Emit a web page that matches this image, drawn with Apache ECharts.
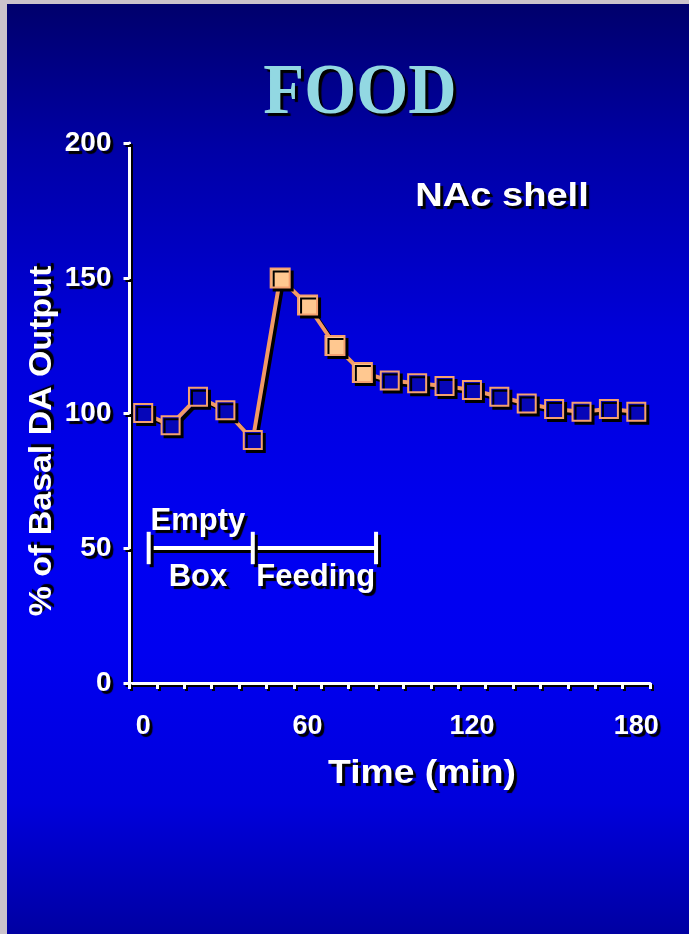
<!DOCTYPE html>
<html>
<head>
<meta charset="utf-8">
<script src="https://cdn.jsdelivr.net/npm/echarts@6/dist/echarts.min.js"></script>
<style>
  html, body { margin: 0; padding: 0; background: #CBC3CB; }
  #main {
    width: 689px; height: 934px;
    background: linear-gradient(to bottom, #00006A 0%, #0000A6 16%, #0000DA 36%, #0000F2 58%, #0000F0 70%, #0000DC 86%, #0000A2 100%);
  }
</style>
</head>
<body>
<div id="main"></div>
<script>
// ---- data ----
const categories = ['0','10','20','30','40','50','60','70','80','90','100','110','120','130','140','150','160','170','180'];
const daOutput   = [100, 95.5, 106, 101, 90, 150, 140, 125, 115, 112, 111, 110, 108.5, 106, 103.5, 101.5, 100.5, 101.5, 100.5];
const filledPoints = [5, 6, 7, 8];            // indices drawn with solid markers
const xLabelTimes  = ['0', '60', '120', '180'];
const yMin = 0, yMax = 200, yStep = 50;
const bracketTimes = [2, 40, 85];             // Empty box / Feeding bracket ends (min)
const bracketLevel = 50, capHalf = 6;
const annoTexts  = ['Empty', 'Box', 'Feeding'];
const annoTimes  = [20, 20, 63];
const annoLevels = [60, 39, 39];

const chart = echarts.init(document.getElementById('main'), null, { renderer: 'canvas' });

const white = '#FFFFFF';
const sh = { shadowColor: '#000', shadowOffsetX: 3, shadowOffsetY: 3, shadowBlur: 0 };
const tsh = { textShadowColor: '#000', textShadowOffsetX: 3, textShadowOffsetY: 3, textShadowBlur: 1 };
const sans = '"Liberation Sans", Arial, sans-serif';

const lineData = daOutput.map((v, i) => filledPoints.includes(i)
  ? { value: v, symbolSize: 19, itemStyle: { color: '#FFC890' } }
  : v);

const bracketSeries = [];
bracketSeries.push({
  type: 'line', xAxisIndex: 1, yAxisIndex: 0, symbol: 'none', silent: true, z: 3,
  data: [[bracketTimes[0], bracketLevel], [bracketTimes[bracketTimes.length - 1], bracketLevel]],
  lineStyle: Object.assign({ color: white, width: 4 }, sh)
});
bracketTimes.forEach(t => bracketSeries.push({
  type: 'line', xAxisIndex: 1, yAxisIndex: 0, symbol: 'none', silent: true, z: 3,
  data: [[t, bracketLevel - capHalf], [t, bracketLevel + capHalf]],
  lineStyle: Object.assign({ color: white, width: 4 }, sh)
}));

const annoSeries = {
  type: 'scatter', xAxisIndex: 1, yAxisIndex: 0, symbolSize: 0, silent: true, z: 4,
  itemStyle: { opacity: 1 },
  data: annoTexts.map((s, i) => [annoTimes[i], annoLevels[i], s]),
  label: Object.assign({
    show: true, position: 'inside', formatter: p => p.data[2], opacity: 1,
    color: white, fontSize: 31, fontWeight: 'bold', fontFamily: sans
  }, tsh)
};

const axisLineStyle = { color: white, width: 3, shadowColor: '#000', shadowOffsetX: 2, shadowOffsetY: 2, shadowBlur: 0 };

const option = {
  animation: false,
  grid: { left: 129.5, right: 39, top: 143, bottom: 251 },
  xAxis: [{
    type: 'category', data: categories, boundaryGap: true,
    axisLine: { onZero: false, lineStyle: axisLineStyle },
    axisTick: { show: true, interval: 0, length: 6, lineStyle: axisLineStyle },
    axisLabel: Object.assign({
      interval: (i, v) => xLabelTimes.includes(v),
      color: white, fontSize: 27, fontWeight: 'bold', fontFamily: sans, margin: 30
    }, tsh),
    splitLine: { show: false }
  }, {
    type: 'value', min: -5, max: 185, show: false
  }],
  yAxis: {
    type: 'value', min: yMin, max: yMax, interval: yStep,
    axisLine: { show: true, onZero: false, lineStyle: axisLineStyle },
    axisTick: { show: true, length: 6, lineStyle: axisLineStyle },
    axisLabel: Object.assign({
      color: white, fontSize: 28, fontWeight: 'bold', fontFamily: sans, margin: 18, padding: [8, 0, 0, 0]
    }, tsh),
    splitLine: { show: false }
  },
  series: [{
    type: 'line', data: lineData, z: 5,
    symbol: 'rect', symbolSize: 18, showAllSymbol: true,
    lineStyle: Object.assign({ color: '#F29A66', width: 4 }, sh),
    itemStyle: Object.assign({ color: '#0606B8', borderColor: '#F5A070', borderWidth: 2 }, sh)
  }].concat(bracketSeries, [annoSeries]),
  graphic: [
    { type: 'rect', z: 100, silent: true, shape: { x: 0, y: 0, width: 7, height: 934 }, style: { fill: '#CBC3CB' } },
    { type: 'rect', z: 100, silent: true, shape: { x: 0, y: 0, width: 689, height: 4 }, style: { fill: '#CBC3CB' } },
    { type: 'text', z: 10, x: 360, y: 94, scaleX: 0.93,
      style: Object.assign({ text: 'FOOD', fill: '#92D8E2', font: 'bold 72px "Liberation Serif", "Times New Roman", serif', align: 'center', verticalAlign: 'middle' }, tsh) },
    { type: 'text', z: 10, x: 502, y: 197, scaleX: 1.12,
      style: Object.assign({ text: 'NAc shell', fill: white, font: 'bold 34px ' + sans, align: 'center', verticalAlign: 'middle' }, tsh) },
    { type: 'text', z: 10, x: 422, y: 774, scaleX: 1.13,
      style: Object.assign({ text: 'Time (min)', fill: white, font: 'bold 33px ' + sans, align: 'center', verticalAlign: 'middle' }, tsh) },
    { type: 'text', z: 10, x: 42, y: 441, rotation: Math.PI / 2, scaleX: 1.06,
      style: Object.assign({ text: '% of Basal DA Output', fill: white, font: 'bold 32px ' + sans, align: 'center', verticalAlign: 'middle' },
        { textShadowColor: '#000', textShadowOffsetX: 3, textShadowOffsetY: -3, textShadowBlur: 1 }) }
  ]
};
chart.setOption(option);
</script>
</body>
</html>
